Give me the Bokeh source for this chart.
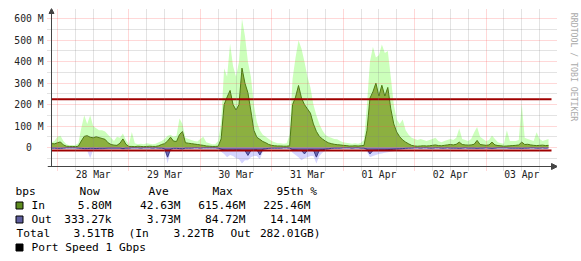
from bokeh.plotting import figure
from bokeh.layouts import column, row
from bokeh.models import Range1d, FixedTicker, Arrow, NormalHead, ColumnDataSource
from bokeh.core.properties import value
from bokeh.embed import file_html
from bokeh.resources import INLINE
import math

# ---------------- data ----------------
# hour offsets from 28 Mar 00:00 (graph covers 27 Mar 22:00 .. 03 Apr 22:00)
HOURS = list(range(-2, 166))
X_START, X_END = -2, 166

IN_AVG = [18, 17,
          22, 26, 12, 6, 5, 5, 4, 6, 30, 52,
          55, 48, 45, 50, 46, 42, 38, 22, 14, 11,
          10, 20, 40, 15, 5, 5, 4, 6, 5, 4,
          5, 6, 5, 5, 8, 14, 18, 30, 48, 30,
          28, 60, 75, 22, 20, 18, 16, 14, 12, 10,
          7, 6, 5, 5, 6, 40, 200, 235, 266, 200,
          175, 200, 370, 300, 255, 170, 80, 48, 38, 28,
          22, 14, 10, 8, 7, 7, 6, 6, 8, 200,
          235, 289, 230, 200, 180, 160, 110, 75, 52, 40,
          30, 22, 18, 15, 13, 12, 10, 9, 7, 7,
          8, 7, 8, 10, 80, 230, 260, 300, 240, 290,
          240, 280, 180, 110, 72, 50, 35, 25, 17, 10,
          7, 6, 7, 8, 7, 8, 10, 12, 9, 8,
          10, 12, 14, 12, 15, 25, 14, 12, 11, 12,
          15, 33, 14, 12, 10, 12, 25, 12, 9, 8,
          6, 7, 8, 9, 10, 12, 25, 14, 15, 12,
          10, 9, 10, 11, 9, 10]

IN_MAX = [25, 30,
          50, 55, 30, 15, 10, 10, 12, 20, 90, 150,
          110, 150, 100, 90, 80, 80, 75, 60, 45, 30,
          50, 45, 65, 35, 15, 72, 20, 15, 18, 15,
          20, 18, 15, 18, 25, 30, 40, 55, 60, 50,
          55, 135, 110, 45, 40, 35, 30, 28, 40, 50,
          25, 20, 15, 15, 30, 120, 370, 330, 485, 380,
          330, 400, 600, 520, 400, 330, 200, 120, 80, 60,
          50, 40, 30, 25, 20, 20, 18, 20, 60, 320,
          420, 500, 460, 400, 330, 280, 200, 150, 110, 80,
          60, 50, 45, 40, 38, 30, 25, 22, 20, 18,
          20, 18, 22, 35, 200, 400, 470, 420, 430, 480,
          440, 450, 330, 200, 130, 110, 130, 80, 60, 45,
          40, 35, 40, 35, 30, 35, 40, 45, 30, 25,
          30, 35, 40, 35, 45, 88, 40, 35, 30, 40,
          70, 95, 50, 40, 30, 35, 56, 40, 25, 20,
          18, 80, 30, 30, 30, 35, 205, 45, 40, 35,
          30, 71, 40, 30, 35, 40]

OUT_AVG = [3, 3,
           4, 4, 3, 2, 2, 2, 2, 3, 4, 5,
           5, 4, 4, 5, 4, 4, 4, 3, 3, 3,
           3, 3, 5, 3, 3, 2, 2, 2, 3, 2,
           2, 2, 3, 2, 3, 3, 5, 45, 8, 4,
           4, 5, 6, 3, 3, 3, 2, 2, 3, 2,
           2, 2, 2, 2, 3, 8, 12, 14, 13, 14,
           12, 13, 14, 14, 37, 14, 12, 10, 35, 8,
           6, 4, 3, 3, 3, 3, 2, 2, 3, 10,
           12, 14, 14, 30, 13, 12, 11, 45, 12, 10,
           8, 6, 4, 3, 3, 3, 2, 2, 2, 3,
           2, 2, 3, 3, 8, 30, 14, 13, 12, 12,
           11, 10, 9, 8, 7, 6, 5, 4, 3, 3,
           2, 2, 3, 2, 2, 3, 3, 2, 2, 3,
           3, 2, 3, 3, 3, 4, 3, 2, 3, 3,
           3, 4, 3, 3, 2, 3, 4, 3, 2, 2,
           2, 2, 3, 3, 3, 3, 4, 3, 3, 2,
           2, 3, 3, 2, 3, 2]

OUT_MAX = [6, 6,
           8, 8, 6, 5, 5, 5, 5, 6, 10, 12,
           15, 50, 12, 10, 10, 10, 8, 8, 6, 6,
           6, 6, 10, 8, 10, 5, 5, 5, 6, 5,
           5, 5, 6, 5, 6, 8, 12, 75, 15, 8,
           8, 10, 12, 6, 6, 6, 5, 5, 6, 5,
           5, 5, 5, 5, 6, 20, 30, 45, 35, 40,
           50, 55, 75, 60, 60, 45, 40, 40, 55, 20,
           12, 8, 6, 6, 6, 6, 5, 5, 6, 25,
           35, 45, 60, 50, 45, 40, 40, 75, 40, 25,
           15, 12, 8, 6, 6, 6, 5, 5, 5, 6,
           5, 5, 6, 6, 20, 45, 40, 35, 30, 28,
           25, 22, 20, 18, 15, 12, 10, 8, 6, 6,
           5, 5, 6, 5, 5, 6, 6, 5, 5, 6,
           6, 5, 6, 6, 6, 8, 6, 5, 6, 6,
           6, 8, 6, 6, 5, 6, 8, 6, 5, 5,
           5, 5, 6, 6, 6, 6, 8, 6, 6, 5,
           5, 6, 6, 5, 6, 5]

IN_P95 = 225.46
OUT_P95 = 14.14

DAY_TICKS = [12, 36, 60, 84, 108, 132, 156]
DAY_LABELS = ["28 Mar", "29 Mar", "30 Mar", "31 Mar", "01 Apr", "02 Apr", "03 Apr"]
MIDNIGHTS = [0, 24, 48, 72, 96, 120, 144]
SIX_HOURS = [6, 12, 18, 30, 36, 42, 54, 60, 66, 78, 84, 90, 102, 108, 114,
             126, 132, 138, 150, 156, 162]
Y_TICKS = [0, 100, 200, 300, 400, 500, 600]
Y_LABELS = ["0\u00a0\u00a0", "100 M", "200 M", "300 M", "400 M", "500 M", "600 M"]
Y_MINOR = [-50, 50, 150, 250, 350, 450, 550]
Y_BOTTOM = -88.6

HEADERS = ["bps", "Now", "Ave", "Max", "95th %"]
SERIES = ["In", "Out"]
IN_STATS = ["5.80M", "42.63M", "615.46M", "225.46M"]
OUT_STATS = ["333.27k", "3.73M", "84.72M", "14.14M"]
TOTAL_ROW = ["Total", "3.51TB", "(In", "3.22TB", "Out", "282.01GB)"]
PORT_TEXT = "Port Speed 1 Gbps"
CREDIT = "RRDTOOL / TOBI OETIKER"

# ---------------- layout ----------------
MONO = "DejaVu Sans Mono"
AXIS_C = "#444444"
PX_H = 0.336      # hours per pixel
PX_V = 4.662      # M per pixel
# frame: x 47..557, y 8..170 (canvas pixels); axes drawn at x=51 / y=166
X0 = X_START - 4 * PX_H
X1 = X_START + 506 * PX_H
Y1 = 139 * PX_V
Y0 = -23 * PX_V

p = figure(width=557, height=186, x_range=Range1d(X0, X1), y_range=Range1d(Y0, Y1),
           output_backend="svg", toolbar_location=None, title=None,
           min_border_left=47, min_border_right=0, min_border_top=8, min_border_bottom=16,
           background_fill_color="white", border_fill_color="white",
           outline_line_color=None)

src = ColumnDataSource(dict(
    h=HOURS, in_avg=IN_AVG, in_max=IN_MAX,
    out_avg=[-v for v in OUT_AVG], out_max=[-v for v in OUT_MAX],
    zero=[0] * len(HOURS)))

p.varea(x="h", y1="zero", y2="in_max", source=src, fill_color="#CCFFBB")
p.varea(x="h", y1="zero", y2="out_max", source=src, fill_color="#D4D4FF")
p.varea(x="h", y1="zero", y2="in_avg", source=src, fill_color="#8CB040")
p.varea(x="h", y1="zero", y2="out_avg", source=src, fill_color="#6A6AAE")
p.line(x="h", y="in_avg", source=src, line_color="#4E7A14", line_width=1)
p.line(x="h", y="out_avg", source=src, line_color="#3A3A88", line_width=1)

# 95th percentile lines
p.segment(x0=[X_START, X_START], x1=[X_END, X_END], y0=[IN_P95, -OUT_P95],
          y1=[IN_P95, -OUT_P95], line_color="#A00000", line_width=2)

# axes: labels only (lines drawn as arrows below)
p.xaxis.ticker = FixedTicker(ticks=DAY_TICKS)
p.xaxis.major_label_overrides = dict(zip(DAY_TICKS, DAY_LABELS))
p.xaxis.major_label_standoff = -2

p.yaxis.ticker = FixedTicker(ticks=Y_TICKS, minor_ticks=Y_MINOR)
p.yaxis.major_label_overrides = dict(zip(Y_TICKS, Y_LABELS))
p.yaxis.major_label_standoff = 4

for ax in (p.xaxis[0], p.yaxis[0]):
    ax.axis_line_color = None
    ax.major_tick_line_color = None
    ax.minor_tick_line_color = None
    ax.major_tick_out = 0
    ax.major_tick_in = 0
    ax.minor_tick_out = 0
    ax.minor_tick_in = 0
    ax.major_label_text_font = MONO
    ax.major_label_text_font_size = "9.7px"
    ax.major_label_text_color = "#222222"

# grid
p.xgrid.ticker = FixedTicker(ticks=MIDNIGHTS, minor_ticks=SIX_HOURS)
for g in (p.xgrid[0], p.ygrid[0]):
    g.grid_line_color = "#FF5050"
    g.grid_line_alpha = 0.45
    g.grid_line_dash = "1 1"
    g.minor_grid_line_color = "#808080"
    g.minor_grid_line_alpha = 0.45
    g.minor_grid_line_dash = "1 1"
    g.level = "guide"

# axis lines with arrowheads
p.add_layout(Arrow(end=NormalHead(size=5, fill_color=AXIS_C, line_color=AXIS_C),
                   x_start=X_START, y_start=Y_BOTTOM, x_end=X_START, y_end=Y1,
                   line_color=AXIS_C, line_width=1))
p.add_layout(Arrow(end=NormalHead(size=6, fill_color=AXIS_C, line_color=AXIS_C),
                   x_start=X0, y_start=Y_BOTTOM, x_end=X1, y_end=Y_BOTTOM,
                   line_color=AXIS_C, line_width=1))

# credit strip on the right
pc = figure(width=24, height=186, x_range=Range1d(0, 24), y_range=Range1d(0, 186),
            output_backend="svg", toolbar_location=None, title=None,
            x_axis_type=None, y_axis_type=None, min_border=0,
            background_fill_color="white", border_fill_color="white",
            outline_line_color=None)
pc.text(x=[16], y=[181], text=[CREDIT], angle=-math.pi / 2,
        text_align="left", text_baseline="middle", text_font=value(MONO),
        text_font_size=value("8.2px"), text_color="#AAAAAA")

# legend area below
LH = 75
p2 = figure(width=581, height=LH, x_range=Range1d(0, 581), y_range=Range1d(0, LH),
            output_backend="svg", toolbar_location=None, title=None,
            x_axis_type=None, y_axis_type=None, min_border=0,
            background_fill_color="white", border_fill_color="white",
            outline_line_color=None)

FS = value("11.2px")
ROWS = [LH - 5, LH - 19, LH - 33, LH - 47, LH - 61]

def txt(xs, ys, ss, align):
    p2.text(x=xs, y=ys, text=ss, text_align=align, text_baseline="middle",
            text_font=value(MONO), text_font_size=FS, text_color="#000000")

txt([15, 79, 148, 212, 276], [ROWS[0]] * 5, HEADERS, "left")
txt([31, 31], ROWS[1:3], SERIES, "left")
txt([111, 180, 245, 310], [ROWS[1]] * 4, IN_STATS, "right")
txt([111, 180, 245, 310], [ROWS[2]] * 4, OUT_STATS, "right")
txt([16, 128, 230], [ROWS[3]] * 3, TOTAL_ROW[0::2], "left")
txt([113.5, 213.5, 320], [ROWS[3]] * 3, TOTAL_ROW[1::2], "right")
txt([31], [ROWS[4]], [PORT_TEXT], "left")

p2.rect(x=[19, 19, 19], y=[ROWS[1], ROWS[2], ROWS[4]], width=7, height=7,
        fill_color=["#5E8C1F", "#5F5F9F", "#000000"], line_color="#000000", line_width=1)

layout = column(row(p, pc), p2)
open("out.html", "w").write(file_html(layout, INLINE))
